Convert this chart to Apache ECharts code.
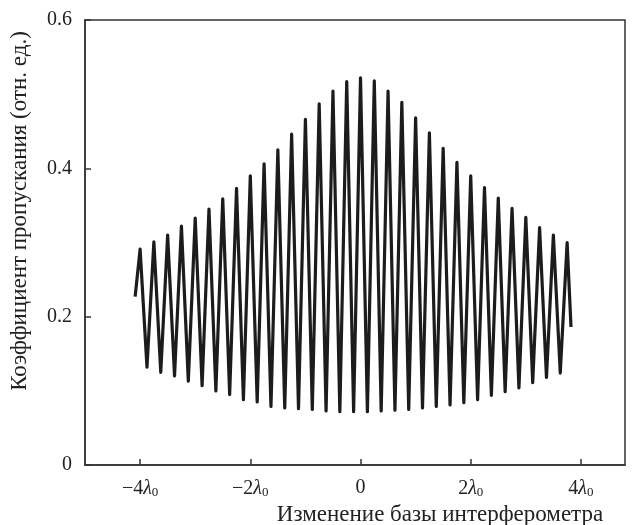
<!DOCTYPE html>
<html>
<head>
<meta charset="utf-8">
<script src="https://cdn.jsdelivr.net/npm/echarts@6/dist/echarts.min.js"></script>
<style>
  html, body { margin: 0; padding: 0; background: #fff; }
  #chart { width: 635px; height: 525px; }
</style>
</head>
<body>
<div id="chart"></div>
<script>
// maxima of the fringes (x in units of λ0)
const peakX = [-4, -3.75, -3.5, -3.25, -3, -2.75, -2.5, -2.25, -2, -1.75, -1.5, -1.25, -1, -0.75, -0.5, -0.25,
  0, 0.25, 0.5, 0.75, 1, 1.25, 1.5, 1.75, 2, 2.25, 2.5, 2.75, 3, 3.25, 3.5, 3.75]
const peakY = [0.291, 0.301, 0.310, 0.322, 0.333, 0.345, 0.359, 0.373, 0.390, 0.406, 0.425, 0.446, 0.466, 0.487, 0.504, 0.517,
  0.522, 0.518, 0.504, 0.489, 0.468, 0.448, 0.427, 0.408, 0.390, 0.374, 0.360, 0.346, 0.334, 0.320, 0.310, 0.300]

// minima between them
const troughX = [-3.875, -3.625, -3.375, -3.125, -2.875, -2.625, -2.375, -2.125, -1.875, -1.625, -1.375, -1.125, -0.875, -0.625, -0.375, -0.125,
  0.125, 0.375, 0.625, 0.875, 1.125, 1.375, 1.625, 1.875, 2.125, 2.375, 2.625, 2.875, 3.125, 3.375, 3.625]
const troughY = [0.132, 0.125, 0.120, 0.113, 0.107, 0.100, 0.095, 0.088, 0.085, 0.079, 0.077, 0.076, 0.075, 0.073, 0.072, 0.072,
  0.072, 0.073, 0.074, 0.075, 0.077, 0.079, 0.081, 0.084, 0.088, 0.094, 0.099, 0.104, 0.111, 0.118, 0.124]

// where the record starts and stops
const startPoint = [-4.09, 0.227]
const endPoint = [3.82, 0.186]

const xTicks = [-4, -2, 0, 2, 4]

let curve = [startPoint]
for (let i = 0; i < peakX.length; i++) {
  curve.push([peakX[i], peakY[i]])
  if (i < troughX.length) curve.push([troughX[i], troughY[i]])
}
curve.push(endPoint)

const font = 'Liberation Serif'
const chart = echarts.init(document.getElementById('chart'))

chart.setOption({
  animation: false,
  grid: {
    left: 85,
    right: 10,
    top: 20,
    bottom: 60,
    outerBoundsMode: 'none',
    show: true,
    borderColor: '#333',
    borderWidth: 1.5
  },
  xAxis: {
    type: 'value',
    min: -5,
    max: 4.8,
    name: 'Изменение базы интерферометра',
    nameLocation: 'middle',
    nameGap: 31,
    nameTextStyle: {
      fontFamily: font,
      fontSize: 23,
      color: '#222',
      padding: [0, 0, 0, 170]
    },
    axisLine: { onZero: false, lineStyle: { color: '#333', width: 1.5 } },
    axisTick: {
      inside: true,
      length: 6,
      customValues: xTicks,
      lineStyle: { color: '#333', width: 1.5 }
    },
    axisLabel: {
      customValues: xTicks,
      margin: 13,
      fontFamily: font,
      fontSize: 20,
      color: '#222',
      formatter: v => {
        if (v === 0) return '0'
        let n = v < 0 ? '−' + Math.abs(v) : '' + v
        return `{n|${n}}{l|λ}{s|0}`
      },
      rich: {
        n: { fontFamily: font, fontSize: 20, color: '#222' },
        l: { fontFamily: font, fontSize: 20, fontStyle: 'italic', color: '#222' },
        s: { fontFamily: font, fontSize: 13, color: '#222', verticalAlign: 'bottom', padding: [8, 0, 0, 0] }
      }
    },
    splitLine: { show: false }
  },
  yAxis: {
    type: 'value',
    min: 0,
    max: 0.6,
    interval: 0.2,
    name: 'Коэффициент пропускания (отн. ед.)',
    nameLocation: 'middle',
    nameGap: 54,
    nameTextStyle: {
      fontFamily: font,
      fontSize: 23,
      color: '#222',
      padding: [0, 0, 0, 63]
    },
    axisLine: { show: true, onZero: false, lineStyle: { color: '#333', width: 1.5 } },
    axisTick: { show: true, inside: true, length: 6, lineStyle: { color: '#333', width: 1.5 } },
    axisLabel: {
      margin: 13,
      fontFamily: font,
      fontSize: 20,
      color: '#222',
      formatter: v => v === 0 ? '0' : v.toFixed(1)
    },
    splitLine: { show: false }
  },
  series: [
    {
      type: 'line',
      data: curve,
      showSymbol: false,
      symbol: 'none',
      lineStyle: { color: '#1c1c1c', width: 3.2, join: 'round' }
    }
  ]
})
</script>
</body>
</html>
